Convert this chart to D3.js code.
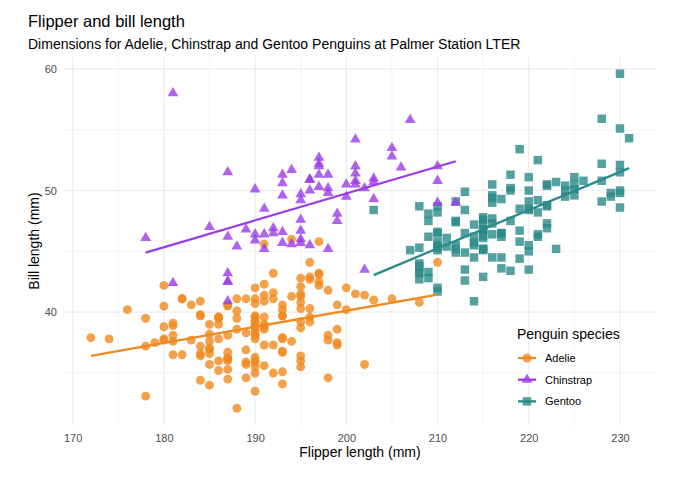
<!DOCTYPE html>
<html>
<head>
<meta charset="utf-8">
<script src="https://cdn.jsdelivr.net/npm/d3@7"></script>
<style>
  body { margin: 0; background: #fff; }
  svg { display: block; font-family: "Liberation Sans", Arial, sans-serif; }
</style>
</head>
<body>
<script>
// species, colours and shapes
const species = ["Adelie", "Chinstrap", "Gentoo"];
const colors = ["#F08A1E", "#9A3BE8", "#2A8A8A"];

// [flipper length (mm), bill length (mm)]
const adelie = [[181,39.1],[186,39.5],[195,40.3],[193,36.7],[190,39.3],[181,38.9],[195,39.2],[193,34.1],[190,42.0],[186,37.8],[180,37.8],[182,41.1],[191,38.6],[198,34.6],[185,36.6],[195,38.7],[197,42.5],[184,34.4],[194,46.0],[174,37.8],[180,37.7],[189,35.9],[185,38.2],[180,38.8],[187,35.3],[183,40.6],[187,40.5],[172,37.9],[180,40.5],[178,39.5],[178,37.2],[188,39.5],[184,40.9],[195,36.4],[196,39.2],[190,38.8],[180,42.2],[181,37.6],[184,39.8],[182,36.5],[195,40.8],[186,36.0],[196,44.1],[185,37.0],[190,39.6],[182,41.1],[179,37.5],[190,36.0],[191,42.3],[186,39.6],[188,40.1],[190,35.0],[200,42.0],[187,34.5],[191,41.4],[186,39.0],[193,40.6],[181,36.5],[194,37.6],[185,35.7],[195,41.3],[185,37.6],[192,41.1],[184,36.4],[192,41.6],[195,35.5],[188,41.1],[190,35.9],[198,41.8],[190,33.5],[190,39.7],[196,39.6],[197,45.8],[190,35.5],[195,42.8],[191,40.9],[184,37.2],[187,36.2],[195,42.1],[189,34.6],[196,42.9],[187,36.7],[193,35.1],[191,37.3],[194,41.3],[190,36.3],[189,36.9],[189,38.3],[190,38.9],[202,35.7],[205,41.1],[185,34.0],[186,39.6],[187,36.2],[208,40.8],[190,38.1],[196,40.3],[178,33.1],[192,43.2],[192,35.0],[203,41.0],[183,37.7],[190,37.8],[193,37.9],[184,39.7],[199,38.6],[190,38.2],[181,38.1],[197,43.2],[198,38.1],[191,45.6],[193,39.7],[197,42.2],[191,39.6],[196,42.7],[188,38.6],[199,37.3],[189,35.7],[189,41.1],[187,36.2],[198,37.7],[176,40.2],[202,41.4],[186,35.2],[199,40.6],[191,38.8],[195,41.5],[191,39.0],[210,44.1],[190,38.5],[197,43.1],[193,36.8],[199,37.5],[187,38.1],[190,41.1],[191,35.6],[200,40.2],[185,37.0],[193,39.7],[193,40.2],[187,40.6],[188,32.1],[190,40.7],[192,37.3],[185,39.0],[190,39.2],[184,36.6],[195,36.0],[193,37.8],[187,36.0],[201,41.5]];

const chinstrap = [[192,46.5],[196,50.0],[193,51.3],[188,45.4],[197,52.7],[198,45.2],[178,46.1],[197,51.3],[195,46.0],[198,51.3],[193,46.6],[194,51.7],[185,47.0],[201,52.0],[190,45.9],[201,50.5],[197,50.3],[181,58.0],[190,46.4],[195,49.2],[181,42.4],[191,48.5],[187,43.2],[193,50.6],[195,46.7],[197,52.0],[200,50.5],[200,49.5],[191,46.4],[205,52.8],[187,40.9],[201,54.2],[187,42.5],[203,51.0],[195,49.7],[199,47.5],[195,47.6],[210,52.0],[192,46.9],[205,53.5],[210,49.0],[187,46.2],[196,50.9],[196,45.5],[196,50.9],[201,50.8],[190,50.1],[212,49.0],[187,51.5],[198,49.8],[199,48.1],[201,51.4],[193,45.7],[203,50.7],[187,42.5],[197,52.2],[191,45.2],[203,49.3],[202,50.2],[194,45.6],[206,51.9],[189,46.8],[195,45.7],[207,55.8],[202,43.5],[193,49.6],[210,50.8],[198,50.2]];

const gentoo = [[211,46.1],[230,50.0],[210,48.7],[218,50.0],[215,47.6],[210,46.5],[211,45.4],[219,46.7],[209,43.3],[215,46.8],[214,40.9],[216,49.0],[214,45.5],[213,48.4],[210,45.8],[217,49.3],[210,42.0],[221,49.2],[209,46.2],[222,48.7],[218,50.2],[215,45.1],[213,46.5],[215,46.3],[215,42.9],[215,46.1],[216,44.5],[215,47.8],[210,48.2],[220,50.0],[222,47.3],[209,42.8],[207,45.1],[230,59.6],[220,49.1],[220,48.4],[213,42.6],[219,44.4],[208,44.0],[208,48.7],[208,42.7],[225,49.6],[210,45.3],[216,49.6],[222,50.5],[217,43.6],[210,45.5],[225,50.5],[213,44.9],[215,45.2],[210,46.6],[220,48.5],[210,45.1],[225,50.1],[217,46.5],[220,45.0],[208,43.8],[220,45.5],[208,43.2],[224,50.4],[208,45.3],[221,46.2],[214,45.7],[231,54.3],[219,45.8],[230,49.8],[214,46.2],[229,49.5],[220,43.5],[223,50.7],[216,47.7],[221,46.4],[221,48.2],[217,46.5],[216,46.4],[230,48.6],[209,47.5],[220,51.1],[215,45.2],[223,45.2],[212,49.1],[221,52.5],[212,47.4],[224,50.0],[212,44.9],[228,50.8],[218,43.4],[218,51.3],[212,47.5],[230,52.1],[218,47.5],[228,52.2],[212,45.5],[224,49.5],[214,44.5],[226,50.8],[216,49.4],[222,46.9],[203,48.4],[225,51.1],[219,48.5],[228,55.9],[215,47.2],[228,49.1],[216,47.3],[215,46.8],[210,41.7],[219,53.4],[208,43.3],[209,48.1],[216,50.5],[229,49.8],[213,43.5],[230,51.5],[217,46.2],[230,55.1],[217,44.5],[222,48.8],[214,47.2],[215,46.8],[222,50.4],[212,45.2],[213,49.9]];

const xTicks = [170, 180, 190, 200, 210, 220, 230];
const yTicks = [40, 50, 60];

const groups = [adelie, chinstrap, gentoo];
// drawing order follows the dataset: Adelie, Gentoo, Chinstrap
const drawOrder = [0, 2, 1];

const W = 680, H = 478;
const panel = {left: 64, right: 656, top: 57, bottom: 425};

const svg = d3.select("body").append("svg")
    .attr("width", W)
    .attr("height", H);

// ggplot style 5% expansion
const all = groups.flat();
function expand(ext) {
    const pad = (ext[1] - ext[0]) * 0.05;
    return [ext[0] - pad, ext[1] + pad];
}
const x = d3.scaleLinear()
    .domain(expand(d3.extent(all, d => d[0])))
    .range([panel.left, panel.right]);
const y = d3.scaleLinear()
    .domain(expand(d3.extent(all, d => d[1])))
    .range([panel.bottom, panel.top]);

// grid
const xMinor = d3.range(165, 240, 10).filter(v => v > x.domain()[0] && v < x.domain()[1]);
const yMinor = d3.range(35, 65, 10).filter(v => v > y.domain()[0] && v < y.domain()[1]);
const grid = svg.append("g");
grid.selectAll(".xmin").data(xMinor).join("line")
    .attr("x1", d => x(d)).attr("x2", d => x(d))
    .attr("y1", panel.top).attr("y2", panel.bottom)
    .attr("stroke", "#EBEBEB").attr("stroke-width", 0.6);
grid.selectAll(".ymin").data(yMinor).join("line")
    .attr("y1", d => y(d)).attr("y2", d => y(d))
    .attr("x1", panel.left).attr("x2", panel.right)
    .attr("stroke", "#EBEBEB").attr("stroke-width", 0.6);
grid.selectAll(".xmaj").data(xTicks).join("line")
    .attr("x1", d => x(d)).attr("x2", d => x(d))
    .attr("y1", panel.top).attr("y2", panel.bottom)
    .attr("stroke", "#EBEBEB").attr("stroke-width", 1.1);
grid.selectAll(".ymaj").data(yTicks).join("line")
    .attr("y1", d => y(d)).attr("y2", d => y(d))
    .attr("x1", panel.left).attr("x2", panel.right)
    .attr("stroke", "#EBEBEB").attr("stroke-width", 1.1);

// axes (text only, like theme_minimal)
const xAxis = svg.append("g")
    .attr("transform", `translate(0,${panel.bottom})`)
    .call(d3.axisBottom(x).tickValues(xTicks).tickSize(0).tickPadding(9));
const yAxis = svg.append("g")
    .attr("transform", `translate(${panel.left},0)`)
    .call(d3.axisLeft(y).tickValues(yTicks).tickSize(0).tickPadding(7));
[xAxis, yAxis].forEach(a => {
    a.select(".domain").remove();
    a.selectAll("text")
        .attr("fill", "#4D4D4D")
        .style("font-size", "11px")
        .style("font-family", "'Liberation Sans', Arial, sans-serif");
});

// symbols
const symbols = [
    d3.symbol().type(d3.symbolCircle).size(62),
    d3.symbol().type(d3.symbolTriangle).size(50),
    d3.symbol().type(d3.symbolSquare).size(72)
];

const pts = svg.append("g");
drawOrder.forEach(i => {
    pts.selectAll(".p" + i).data(groups[i]).join("path")
        .attr("class", "p" + i)
        .attr("d", symbols[i])
        .attr("transform", d => `translate(${x(d[0])},${y(d[1])})`)
        .attr("fill", colors[i])
        .attr("opacity", 0.8);
});

// linear fits (geom_smooth method = "lm")
function fit(data) {
    const mx = d3.mean(data, d => d[0]), my = d3.mean(data, d => d[1]);
    const b = d3.sum(data, d => (d[0] - mx) * (d[1] - my)) / d3.sum(data, d => (d[0] - mx) ** 2);
    const a = my - b * mx;
    const ext = d3.extent(data, d => d[0]);
    return ext.map(v => [v, a + b * v]);
}
const line = d3.line().x(d => x(d[0])).y(d => y(d[1]));
groups.forEach((g, i) => {
    svg.append("path")
        .attr("d", line(fit(g)))
        .attr("fill", "none")
        .attr("stroke", colors[i])
        .attr("stroke-width", 2.3);
});

// titles
svg.append("text")
    .attr("x", 28).attr("y", 27)
    .style("font-size", "16.5px")
    .text("Flipper and bill length");
svg.append("text")
    .attr("x", 28).attr("y", 49)
    .style("font-size", "14px")
    .text("Dimensions for Adelie, Chinstrap and Gentoo Penguins at Palmer Station LTER");
svg.append("text")
    .attr("x", (panel.left + panel.right) / 2).attr("y", 457)
    .attr("text-anchor", "middle")
    .style("font-size", "14px")
    .text("Flipper length (mm)");
svg.append("text")
    .attr("transform", `translate(39,${(panel.top + panel.bottom) / 2}) rotate(-90)`)
    .attr("text-anchor", "middle")
    .style("font-size", "14px")
    .text("Bill length (mm)");

// legend
const legend = svg.append("g").attr("transform", "translate(517,0)");
legend.append("text")
    .attr("x", 0).attr("y", 339)
    .style("font-size", "14px")
    .text("Penguin species");
species.forEach((s, i) => {
    const cy = 358 + i * 21.7;
    legend.append("line")
        .attr("x1", 1).attr("x2", 19)
        .attr("y1", cy).attr("y2", cy)
        .attr("stroke", colors[i]).attr("stroke-width", 2.3);
    legend.append("path")
        .attr("d", symbols[i])
        .attr("transform", `translate(10,${cy})`)
        .attr("fill", colors[i])
        .attr("opacity", 0.8);
    legend.append("text")
        .attr("x", 28).attr("y", cy)
        .attr("dy", "0.35em")
        .style("font-size", "11px")
        .text(s);
});
</script>
</body>
</html>
